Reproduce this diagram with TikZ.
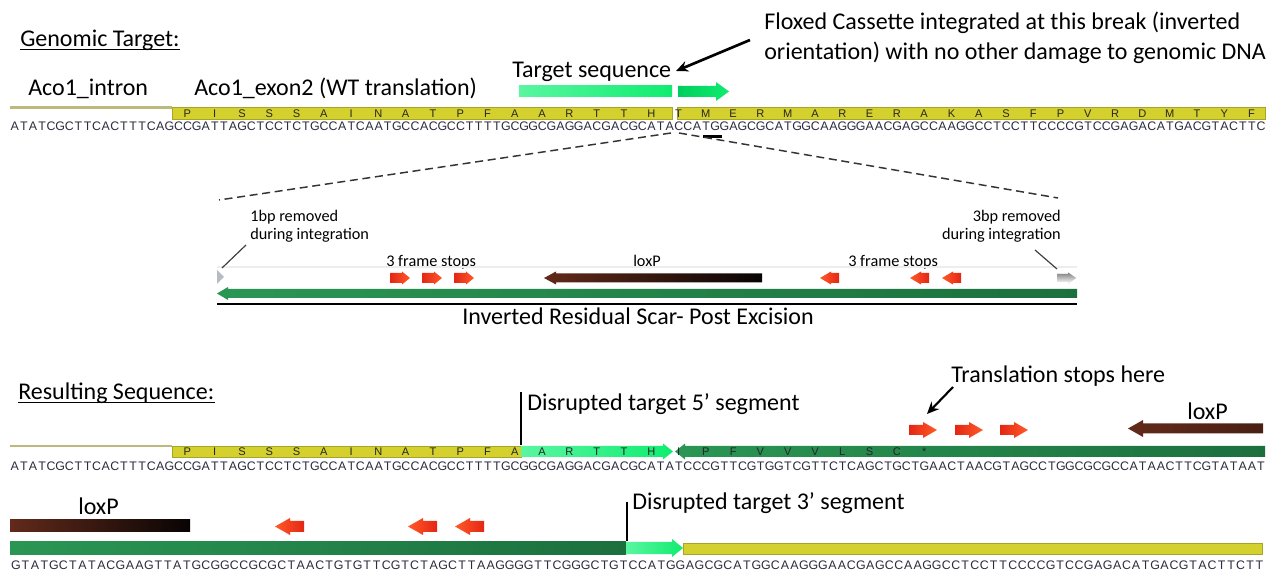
\documentclass[tikz,border=0pt]{standalone}
\usepackage{fontspec}
\setmainfont{Carlito}
\newfontfamily\seqfont{Liberation Sans}
\usetikzlibrary{arrows.meta}

\definecolor{bandyellow}{RGB}{212,208,46}
\definecolor{bandedge}{RGB}{168,164,40}
\definecolor{intronline}{RGB}{188,186,122}
\definecolor{tgtlight}{RGB}{90,246,160}
\definecolor{tgtmid}{RGB}{16,236,112}
\definecolor{tgtdark}{RGB}{0,206,92}
\definecolor{scarlight}{RGB}{42,150,84}
\definecolor{scardark}{RGB}{28,112,62}
\definecolor{stopdark}{RGB}{228,38,20}
\definecolor{stoplight}{RGB}{255,90,40}
\definecolor{loxbrown}{RGB}{98,42,26}
\definecolor{loxblack}{RGB}{8,4,4}
\definecolor{cutgray}{RGB}{182,187,196}
\definecolor{seqgray}{RGB}{44,44,62}

% one base per fixed-width cell, as in a sequence viewer
\newlength\seqpitch
\def\seqloop#1{\ifx#1\relax\else\makebox[\seqpitch][c]{#1}\expandafter\seqloop\fi}
\newcommand\seqtext[2]{\setlength\seqpitch{#1}\seqloop#2\relax}

% block arrow: tail x, head base x, tip x, centre y, body half height, head half height
\newcommand\arrowpath[6]{(#1,#4-#5) -- (#2,#4-#5) -- (#2,#4-#6) -- (#3,#4) -- (#2,#4+#6) -- (#2,#4+#5) -- (#1,#4+#5) -- cycle}

\tikzset{
  lbl/.style={inner sep=0pt, anchor=base west, font=\fontsize{18}{21}\selectfont},
  small/.style={inner sep=0pt, font=\fontsize{12.2}{14}\selectfont},
  seqrow/.style={inner sep=0pt, anchor=west, text=seqgray, font=\seqfont\fontsize{9.3}{10}\selectfont},
  aa/.style={inner sep=0pt, font=\seqfont\fontsize{8.3}{9}\selectfont, text=black!85},
  band/.style={fill=bandyellow, draw=bandedge, line width=0.5},
  intron/.style={draw=intronline, line width=1.6},
  stopR/.style={left color=stopdark, right color=stoplight},
  stopL/.style={left color=stoplight, right color=stopdark},
  lox/.style={left color=loxbrown, right color=loxblack},
  scar/.style={left color=scarlight, right color=scardark},
  tgt/.style={left color=tgtlight, right color=tgtmid},
  cut/.style={fill=cutgray},
  zoomline/.style={dashed, dash pattern=on 6 off 3.5, line width=1.1, draw=black!80},
  pointer/.style={line width=0.9, draw=black!75},
  callout/.style={line width=2, -{Stealth[length=9pt,width=8pt]}},
  marker/.style={line width=0.9},
}

\begin{document}
\begin{tikzpicture}[x=0.75pt,y=-0.75pt]
\useasboundingbox (0,0) rectangle (1268,573);

% ---------------- genomic target ----------------
\node[lbl] (gt) at (20,47) {Genomic Target:};
\draw[line width=1.1] ([yshift=-2pt]gt.base west) -- ([yshift=-2pt]gt.base east);
\node[lbl] (intronlbl) at (28,96) {Aco1\_intron};
\node[lbl] (exonlbl) at (194,96) {Aco1\_exon2 (WT translation)};
\node[lbl] (tseq) at (512,78) {Target sequence};
\node[lbl] (flox1) at (764,30) {Floxed Cassette integrated at this break (inverted};
\node[lbl] (flox2) at (764,60) {orientation) with no other damage to genomic DNA};
\coordinate (floxtail) at (750,40);
\coordinate (floxtip) at (676,71);
\draw[callout] (floxtail) -- (floxtip);

% target sequence arrow, split at the break
\shade[tgt] (519,86) rectangle (672,97);
\shade[left color=tgtdark, right color=tgtmid] \arrowpath{678}{716}{729}{91.5}{5.5}{9.5};

% intron line and exon translation band
\draw[intron] (10,107.5) -- (172,107.5);
\draw[band] (172,107) rectangle (672,119);
\draw[band] (677,107) rectangle (1265,119);
\foreach \a [count=\k from 0] in {P,I,S,S,S,A,I,N,A,T,P,F,A,A,R,T,T,H,T,M,E,R,M,A,R,E,R,A,K,A,S,F,P,V,R,D,M,T,Y,F}
  \node[aa] (aaone\k) at ({10+(19.5+3*\k)*9.096},113.5) {\a};

\node[seqrow] (seq1) at (10,126) {\seqtext{6.822pt}{ATATCGCTTCACTTTCAGCCGATTAGCTCCTCTGCCATCAATGCCACGCCTTTTGCGGCGAGGACGACGCATACCATGGAGCGCATGGCAAGGGAACGAGCCAAGGCCTCCTTCCCCGTCCGAGACATGACGTACTTC}};
\draw[line width=2] (703,136.5) -- (722,136.5);

% zoom-out lines to the scar
\coordinate (brkL) at (671,133);
\coordinate (brkR) at (679,133);
\coordinate (scarL) at (219,200);
\coordinate (scarR) at (1058,198);
\draw[zoomline] (brkL) -- (scarL);
\draw[zoomline] (brkR) -- (scarR);

% ---------------- residual scar ----------------
\node[small, anchor=base west] (rm1a) at (250,222) {1bp removed};
\node[small, anchor=base west] (rm1b) at (250,240) {during integration};
\node[small, anchor=base east] (rm3a) at (1061,222) {3bp removed};
\node[small, anchor=base east] (rm3b) at (1061,240) {during integration};
\node[small, anchor=base west] (fs1) at (386,267) {3 frame stops};
\node[small, anchor=base west] (fs2) at (848,267) {3 frame stops};
\node[small, anchor=base west] (loxlbl1) at (633,267) {loxP};

\draw[black!7, line width=0.8] (217,267) -- (1077,267);
\fill[cut] (217,270) -- (224,277) -- (217,284) -- cycle;
\shade[cut] \arrowpath{1057}{1068}{1076}{278}{4}{5.5};
\coordinate (cut1) at (222,268);
\coordinate (cut3) at (1057,269);
\draw[pointer] (246,245) -- (cut1);
\draw[pointer] (1035,250) -- (cut3);

\foreach \a in {390,422,454}
  \shade[stopR] \arrowpath{\a}{\a+12}{\a+20}{278}{5}{6.5};
\foreach \a in {839,929,961}
  \shade[stopL] \arrowpath{\a}{\a-8}{\a-19}{278}{5}{6.5};
\shade[lox] \arrowpath{762}{556}{544}{278}{4.5}{6.5};

\shade[scar] \arrowpath{1077}{228}{217}{293.5}{4.5}{6.5};
\draw[line width=1.4] (217,304) -- (1077,304);
\node[lbl] (scarlbl) at (462,325) {Inverted Residual Scar- Post Excision};

% ---------------- resulting sequence ----------------
\node[lbl] (rs) at (18,400) {Resulting Sequence:};
\draw[line width=1.1] ([yshift=-2pt]rs.base west) -- ([yshift=-2pt]rs.base east);

\node[lbl] (d5) at (527,411) {Disrupted target 5’ segment};
\coordinate (d5top) at (521,392);
\coordinate (d5bot) at (521,445);
\draw[marker] (d5top) -- (d5bot);

\node[lbl] (tsh) at (951,383) {Translation stops here};
\coordinate (tshtail) at (953,387);
\coordinate (tshtip) at (927,414);
\draw[callout, line width=1.6] (tshtail) -- (tshtip);

\node[lbl] (loxlbl2) at (1187,420) {loxP};
\shade[left color=loxbrown, right color=loxbrown!75!black] \arrowpath{1263}{1143}{1128}{428.5}{5}{8.5};
\foreach \a in {909,955,1000}
  \shade[stopR] \arrowpath{\a}{\a+14}{\a+28}{430}{5}{8};

\draw[intron] (10,446) -- (172,446);
\draw[band] (172,446) rectangle (521,457);
\shade[tgt] \arrowpath{521}{663}{673}{451.5}{5.5}{8};
\shade[scar] \arrowpath{1265}{685}{675}{451.5}{5.5}{8};
\foreach \a [count=\k from 0] in {P,I,S,S,S,A,I,N,A,T,P,F,A,A,R,T,T,H,I,P,F,V,V,V,L,S,C,*}
  \node[aa] (aatwo\k) at ({10+(19.5+3*\k)*9.096},452) {\a};

\node[seqrow] (seq2) at (10,466) {\seqtext{6.822pt}{ATATCGCTTCACTTTCAGCCGATTAGCTCCTCTGCCATCAATGCCACGCCTTTTGCGGCGAGGACGACGCATATCCCGTTCGTGGTCGTTCTCAGCTGCTGAACTAACGTAGCCTGGCGCGCCATAACTTCGTATAAT}};

% third line of the resulting sequence
\node[lbl] (loxlbl3) at (78,514) {loxP};
\shade[lox] (10,520) rectangle (190,532);
\foreach \a in {304,437,484}
  \shade[stopL] \arrowpath{\a}{\a-14}{\a-29}{526.5}{5.5}{8.5};

\node[lbl] (d3) at (632,509) {Disrupted target 3’ segment};
\coordinate (d3top) at (627,502);
\coordinate (d3bot) at (627,541);
\draw[marker] (d3top) -- (d3bot);

\shade[scar] (10,542) rectangle (626,554);
\shade[tgt] \arrowpath{626}{672}{683}{548}{6}{9};
\draw[band] (683,543) rectangle (1262,554);

\node[seqrow] (seq3) at (11,565) {\seqtext{7.119pt}{GTATGCTATACGAAGTTATGCGGCCGCGCTAACTGTGTTCGTCTAGCTTAAGGGGTTCGGGCTGTCCATGGAGCGCATGGCAAGGGAACGAGCCAAGGCCTCCTTCCCCGTCCGAGACATGACGTACTTCTT}};
\end{tikzpicture}
\end{document}
